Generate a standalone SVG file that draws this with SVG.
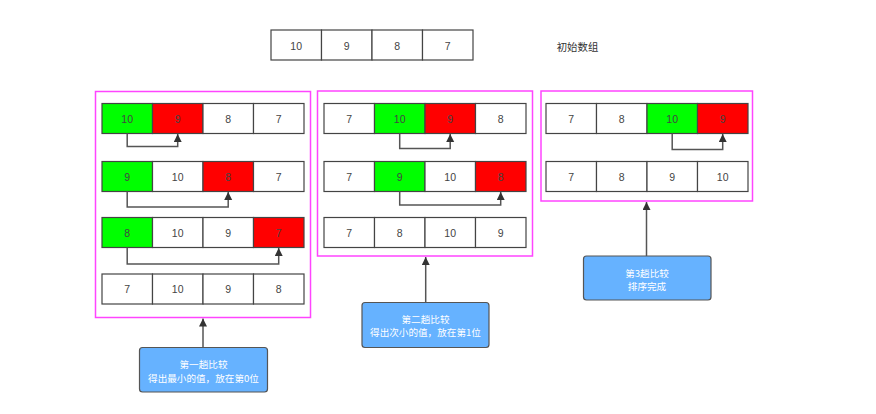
<svg xmlns="http://www.w3.org/2000/svg" width="876" height="414" viewBox="0 0 876 414">
<style>
.bg{fill:#fff}
.cell{fill:#fff;stroke:#444;stroke-width:1.2}
.g{fill:#00FF00}
.r{fill:#FF0000}
.num{font-family:"Liberation Sans",Arial,sans-serif;font-size:10.5px;fill:#444;text-anchor:middle;dominant-baseline:central}
.frame{fill:none;stroke:#FF44FF;stroke-width:1.5}
.conn{fill:none;stroke:#555;stroke-width:1.5}
.call{fill:#66B2FF;stroke:#555;stroke-width:1.2}
.ct{font-family:"Noto Sans CJK SC","Noto Sans",sans-serif;font-size:9.6px;fill:#fff;text-anchor:middle;dominant-baseline:central}
.lbl{font-family:"Noto Sans CJK SC","Noto Sans",sans-serif;font-size:10.4px;fill:#333;text-anchor:middle;dominant-baseline:central}
</style>
<defs>
<marker id="ah" markerUnits="userSpaceOnUse" markerWidth="8" markerHeight="10" refX="8" refY="4" orient="auto">
<path d="M0,0 L8,4 L0,8 z" fill="#333"/>
</marker>
</defs>
<rect class="bg" x="0" y="0" width="876" height="414"/>

<g id="initial">
<rect class="cell" x="271" y="30" width="50.5" height="30"/><rect class="cell" x="321.5" y="30" width="50.5" height="30"/><rect class="cell" x="372" y="30" width="50.5" height="30"/><rect class="cell" x="422.5" y="30" width="50.5" height="30"/>
<text class="num" x="296.2" y="45.5">10</text><text class="num" x="346.7" y="45.5">9</text><text class="num" x="397.2" y="45.5">8</text><text class="num" x="447.7" y="45.5">7</text>
<text class="lbl" x="577.5" y="46">初始数组</text>
</g>

<g id="pass1">
<rect class="frame" x="95.5" y="91.5" width="215" height="226"/>
<rect class="cell g" x="102" y="103.5" width="50.5" height="30"/><rect class="cell r" x="152.5" y="103.5" width="50.5" height="30"/><rect class="cell" x="203" y="103.5" width="50.5" height="30"/><rect class="cell" x="253.5" y="103.5" width="50.5" height="30"/>
<text class="num" x="127.2" y="118.5">10</text><text class="num" x="177.7" y="118.5">9</text><text class="num" x="228.2" y="118.5">8</text><text class="num" x="278.7" y="118.5">7</text>
<rect class="cell g" x="102" y="161.5" width="50.5" height="30"/><rect class="cell" x="152.5" y="161.5" width="50.5" height="30"/><rect class="cell r" x="203" y="161.5" width="50.5" height="30"/><rect class="cell" x="253.5" y="161.5" width="50.5" height="30"/>
<text class="num" x="127.2" y="176.5">9</text><text class="num" x="177.7" y="176.5">10</text><text class="num" x="228.2" y="176.5">8</text><text class="num" x="278.7" y="176.5">7</text>
<rect class="cell g" x="102" y="217.5" width="50.5" height="30"/><rect class="cell" x="152.5" y="217.5" width="50.5" height="30"/><rect class="cell" x="203" y="217.5" width="50.5" height="30"/><rect class="cell r" x="253.5" y="217.5" width="50.5" height="30"/>
<text class="num" x="127.2" y="232.5">8</text><text class="num" x="177.7" y="232.5">10</text><text class="num" x="228.2" y="232.5">9</text><text class="num" x="278.7" y="232.5">7</text>
<rect class="cell" x="102" y="274" width="50.5" height="30"/><rect class="cell" x="152.5" y="274" width="50.5" height="30"/><rect class="cell" x="203" y="274" width="50.5" height="30"/><rect class="cell" x="253.5" y="274" width="50.5" height="30"/>
<text class="num" x="127.2" y="289">7</text><text class="num" x="177.7" y="289">10</text><text class="num" x="228.2" y="289">9</text><text class="num" x="278.7" y="289">8</text>
</g>

<g id="pass2">
<rect class="frame" x="317.5" y="91" width="215" height="165"/>
<rect class="cell" x="324" y="103.5" width="50.5" height="30"/><rect class="cell g" x="374.5" y="103.5" width="50.5" height="30"/><rect class="cell r" x="425" y="103.5" width="50.5" height="30"/><rect class="cell" x="475.5" y="103.5" width="50.5" height="30"/>
<text class="num" x="349.2" y="118.5">7</text><text class="num" x="399.7" y="118.5">10</text><text class="num" x="450.2" y="118.5">9</text><text class="num" x="500.7" y="118.5">8</text>
<rect class="cell" x="324" y="161.5" width="50.5" height="30"/><rect class="cell g" x="374.5" y="161.5" width="50.5" height="30"/><rect class="cell" x="425" y="161.5" width="50.5" height="30"/><rect class="cell r" x="475.5" y="161.5" width="50.5" height="30"/>
<text class="num" x="349.2" y="176.5">7</text><text class="num" x="399.7" y="176.5">9</text><text class="num" x="450.2" y="176.5">10</text><text class="num" x="500.7" y="176.5">8</text>
<rect class="cell" x="324" y="217.5" width="50.5" height="30"/><rect class="cell" x="374.5" y="217.5" width="50.5" height="30"/><rect class="cell" x="425" y="217.5" width="50.5" height="30"/><rect class="cell" x="475.5" y="217.5" width="50.5" height="30"/>
<text class="num" x="349.2" y="232.5">7</text><text class="num" x="399.7" y="232.5">8</text><text class="num" x="450.2" y="232.5">10</text><text class="num" x="500.7" y="232.5">9</text>
</g>

<g id="pass3">
<rect class="frame" x="541" y="91" width="211.5" height="110"/>
<rect class="cell" x="546" y="103.5" width="50.5" height="30"/><rect class="cell" x="596.5" y="103.5" width="50.5" height="30"/><rect class="cell g" x="647" y="103.5" width="50.5" height="30"/><rect class="cell r" x="697.5" y="103.5" width="50.5" height="30"/>
<text class="num" x="571.2" y="118.5">7</text><text class="num" x="621.7" y="118.5">8</text><text class="num" x="672.2" y="118.5">10</text><text class="num" x="722.7" y="118.5">9</text>
<rect class="cell" x="546" y="161.5" width="50.5" height="30"/><rect class="cell" x="596.5" y="161.5" width="50.5" height="30"/><rect class="cell" x="647" y="161.5" width="50.5" height="30"/><rect class="cell" x="697.5" y="161.5" width="50.5" height="30"/>
<text class="num" x="571.2" y="176.5">7</text><text class="num" x="621.7" y="176.5">8</text><text class="num" x="672.2" y="176.5">9</text><text class="num" x="722.7" y="176.5">10</text>
</g>

<g id="note1">
<rect class="call" x="139.5" y="347.5" width="128" height="44.5" rx="3"/>
<text class="ct" x="203.5" y="364">第一趟比较</text>
<text class="ct" x="203.5" y="377.5">得出最小的值，放在第0位</text>
</g>
<g id="note2">
<rect class="call" x="362" y="302.5" width="127" height="45" rx="3"/>
<text class="ct" x="425.5" y="319">第二趟比较</text>
<text class="ct" x="425.5" y="331.5">得出次小的值，放在第1位</text>
</g>
<g id="note3">
<rect class="call" x="583.5" y="256" width="127.5" height="44" rx="3"/>
<text class="ct" x="647" y="272.5">第3趟比较</text>
<text class="ct" x="647" y="286">排序完成</text>
</g>

<g id="connectors">
<path class="conn" marker-end="url(#ah)" d="M127.2,133.5 V146.5 H177.7 V134"/>
<path class="conn" marker-end="url(#ah)" d="M127.2,191.5 V207 H228.2 V192"/>
<path class="conn" marker-end="url(#ah)" d="M127.2,247.5 V264 H278.7 V248"/>
<path class="conn" marker-end="url(#ah)" d="M399.7,133.5 V148.5 H450.2 V134"/>
<path class="conn" marker-end="url(#ah)" d="M399.7,191.5 V205 H500.7 V192"/>
<path class="conn" marker-end="url(#ah)" d="M672.2,133.5 V149.5 H722.7 V134"/>
<path class="conn" marker-end="url(#ah)" d="M203,347.5 V318.5"/>
<path class="conn" marker-end="url(#ah)" d="M425.7,302.5 V257"/>
<path class="conn" marker-end="url(#ah)" d="M646.5,256 V202"/>
</g>
</svg>
